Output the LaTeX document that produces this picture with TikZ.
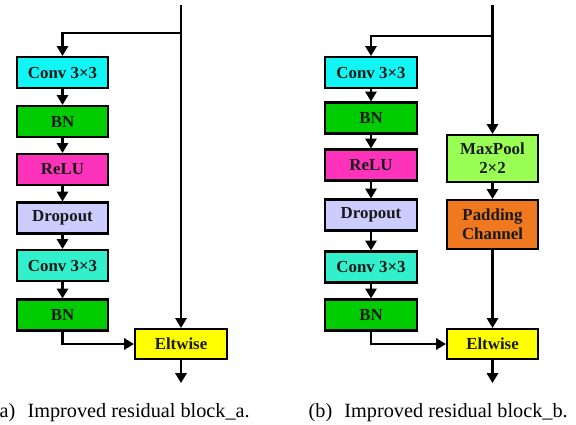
\documentclass[tikz,border=0pt]{standalone}
\usepackage{fontspec}
\setmainfont{Liberation Serif}
\usetikzlibrary{arrows.meta,positioning}

\definecolor{convcyan}{RGB}{17,245,245}
\definecolor{convaqua}{RGB}{51,240,204}
\definecolor{bngreen}{RGB}{0,204,0}
\definecolor{relupink}{RGB}{255,51,187}
\definecolor{droplav}{RGB}{204,204,255}
\definecolor{poolgreen}{RGB}{153,255,85}
\definecolor{padorange}{RGB}{240,120,30}
\definecolor{eltyellow}{RGB}{255,255,0}

\tikzset{
  block/.style={draw,line width=1.5pt,minimum width=2.275cm,minimum height=0.775cm,
    inner sep=1pt,align=center,text=black!90,font=\bfseries\fontsize{12}{13.5}\selectfont},
  flow/.style={line width=1.5pt,-{Triangle[length=7pt,width=8pt]}},
  capt/.style={font=\fontsize{14.4}{17}\selectfont,inner sep=0pt}
}

\begin{document}
\begin{tikzpicture}[x=0.025cm,y=-0.025cm]
\useasboundingbox (0,0) rectangle (576,424);

% block a
\coordinate (topA) at (181,5);
\coordinate (splitA) at (181,33);
\coordinate (outA) at (181,383);
\node[block,fill=convcyan] (convA1) at (62.5,72.5) {Conv 3×3};
\node[block,fill=bngreen] (bnA1) at (62.5,121.5) {BN};
\node[block,fill=relupink] (reluA) at (62.5,169.5) {ReLU};
\node[block,fill=droplav] (dropA) at (62.5,218) {Dropout};
\node[block,fill=convaqua] (convA2) at (62.5,265.5) {Conv 3×3};
\node[block,fill=bngreen] (bnA2) at (62.5,315) {BN};
\node[block,fill=eltyellow,minimum width=2.3cm,minimum height=0.75cm] (eltA) at (181,344) {Eltwise};

\draw[flow] (topA) -- (eltA);
\draw[flow] (splitA) -| (convA1.north);
\draw[flow] (convA1) -- (bnA1);
\draw[flow] (bnA1) -- (reluA);
\draw[flow] (reluA) -- (dropA);
\draw[flow] (dropA) -- (convA2);
\draw[flow] (convA2) -- (bnA2);
\draw[flow] (bnA2.south) |- (eltA.west);
\draw[flow] (eltA) -- (outA);

\node[capt,anchor=base east] (captA) at (250,417) {(a)\hspace{0.6em}Improved residual block\_a.};

% block b
\coordinate (topB) at (492.5,5);
\coordinate (splitB) at (492.5,36);
\coordinate (outB) at (492.5,383);
\node[block,fill=convcyan,minimum width=2.3cm] (convB1) at (371,72.5) {Conv 3×3};
\node[block,fill=bngreen,minimum width=2.3cm] (bnB1) at (371,118) {BN};
\node[block,fill=relupink,minimum width=2.3cm] (reluB) at (371,165) {ReLU};
\node[block,fill=droplav,minimum width=2.3cm] (dropB) at (371,215) {Dropout};
\node[block,fill=convaqua,minimum width=2.3cm] (convB2) at (371,267) {Conv 3×3};
\node[block,fill=bngreen,minimum width=2.3cm] (bnB2) at (371,315) {BN};
\node[block,fill=poolgreen,minimum height=1.175cm] (poolB) at (492.5,158.5) {MaxPool\\2×2};
\node[block,fill=padorange,minimum height=1.225cm] (padB) at (492.5,224.5) {Padding\\Channel};
\node[block,fill=eltyellow,minimum height=0.75cm] (eltB) at (492.5,344) {Eltwise};

\draw[flow] (topB) -- (poolB);
\draw[flow] (splitB) -| (convB1.north);
\draw[flow] (convB1) -- (bnB1);
\draw[flow] (bnB1) -- (reluB);
\draw[flow] (reluB) -- (dropB);
\draw[flow] (dropB) -- (convB2);
\draw[flow] (convB2) -- (bnB2);
\draw[flow] (poolB) -- (padB);
\draw[flow] (padB) -- (eltB);
\draw[flow] (bnB2.south) |- (eltB.west);
\draw[flow] (eltB) -- (outB);

\node[capt,anchor=base east] (captB) at (568,417) {(b)\hspace{0.6em}Improved residual block\_b.};
\end{tikzpicture}
\end{document}
